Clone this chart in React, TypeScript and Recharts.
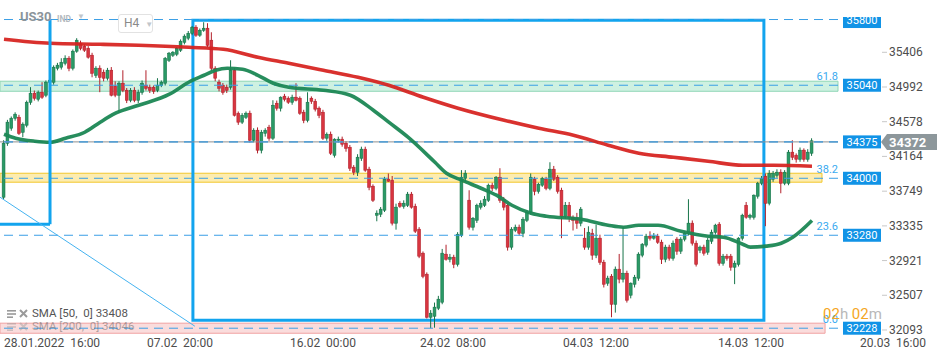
import React from 'react';
import { Bar, ComposedChart, Line, ReferenceArea, ReferenceLine, XAxis, YAxis } from 'recharts';

// H4 candles: [open, high, low, close]
const candles: number[][] = [
  [33677, 34357, 33653, 34321], [34321, 34600, 34290, 34572], [34500, 34640, 34470, 34619], [34619, 34690, 34590, 34667],
  [34631, 34660, 34420, 34440], [34452, 34570, 34393, 34548], [34536, 34830, 34510, 34810], [34810, 34990, 34780, 34918],
  [34918, 34950, 34830, 34858], [34846, 34950, 34820, 34929], [34929, 35049, 34850, 34870], [34894, 35070, 34870, 35049],
  [35049, 35100, 35000, 35073], [35049, 35250, 35020, 35228], [35216, 35280, 35190, 35252], [35228, 35335, 35200, 35287],
  [35275, 35370, 35250, 35335], [35335, 35360, 35180, 35216], [35216, 35440, 35190, 35419], [35419, 35574, 35400, 35550],
  [35514, 35545, 35430, 35454], [35478, 35500, 35410, 35431], [35454, 35480, 35330, 35347], [35371, 35400, 35108, 35156],
  [35132, 35240, 35100, 35216], [35216, 35250, 34930, 35108], [35168, 35200, 35060, 35097], [35097, 35220, 35070, 35192],
  [35192, 35230, 34880, 34894], [35001, 35060, 34870, 34894], [34894, 35060, 34680, 35037], [35037, 35192, 34930, 34953],
  [34953, 34980, 34800, 34834], [34834, 34980, 34810, 34953], [34953, 34990, 34810, 34834], [34834, 34960, 34800, 34929],
  [34929, 35070, 34900, 35037], [35013, 35192, 34950, 34977], [34989, 35020, 34920, 34953], [34989, 35010, 34910, 34941],
  [34953, 35097, 34930, 35013], [35013, 35070, 34990, 35049], [35037, 35350, 35010, 35335], [35311, 35410, 35290, 35395],
  [35371, 35420, 35350, 35407], [35383, 35470, 35360, 35454], [35431, 35560, 35410, 35538], [35526, 35620, 35500, 35598],
  [35574, 35660, 35550, 35633], [35633, 35720, 35610, 35705], [35705, 35730, 35590, 35610], [35610, 35690, 35590, 35669],
  [35669, 35765, 35650, 35693], [35693, 35753, 35470, 35490], [35550, 35645, 35190, 35216], [35216, 35240, 35060, 35097],
  [35049, 35080, 34940, 34977], [35013, 35040, 34900, 34929], [34989, 35020, 34920, 34953], [34989, 35311, 34960, 35192],
  [35192, 35220, 34640, 34655], [34679, 34700, 34540, 34572], [34572, 34680, 34550, 34655], [34631, 34700, 34610, 34679],
  [34679, 34710, 34330, 34357], [34357, 34500, 34330, 34476], [34476, 34510, 34200, 34238], [34238, 34480, 34200, 34452],
  [34440, 34500, 34400, 34476], [34512, 34540, 34350, 34381], [34381, 34834, 34360, 34774], [34798, 34830, 34710, 34739],
  [34739, 34880, 34700, 34870], [34882, 34910, 34820, 34846], [34858, 34880, 34790, 34810], [34810, 34900, 34780, 34870],
  [34870, 35037, 34820, 34834], [34858, 34880, 34660, 34679], [34691, 34720, 34560, 34595], [34595, 34929, 34570, 34810],
  [34858, 34880, 34790, 34822], [34822, 34850, 34700, 34727], [34739, 34760, 34620, 34655], [34691, 34720, 34360, 34381],
  [34381, 34450, 34350, 34428], [34428, 34460, 34180, 34202], [34178, 34380, 34150, 34369], [34357, 34400, 34330, 34369],
  [34369, 34400, 34280, 34309], [34321, 34345, 34220, 34261], [34273, 34300, 33990, 34023], [34035, 34060, 33940, 33975],
  [33975, 34190, 33930, 34154], [34142, 34280, 34110, 34250], [34250, 34280, 33980, 33999], [34011, 34040, 33760, 33796],
  [33808, 33830, 33620, 33641], [33462, 33520, 33390, 33486], [33474, 33560, 33440, 33534], [33522, 33920, 33500, 33892],
  [33892, 33960, 33860, 33868], [33880, 33930, 33340, 33367], [33367, 33600, 33290, 33558], [33605, 33630, 33550, 33569],
  [33569, 33640, 33540, 33605], [33581, 33740, 33560, 33713], [33713, 33740, 33540, 33558], [33569, 33600, 33250, 33271],
  [33295, 33320, 32950, 32973], [33009, 33030, 32710, 32734], [32758, 32780, 32230, 32245], [32245, 32330, 32114, 32293],
  [32257, 32420, 32120, 32365], [32353, 32500, 32330, 32460], [32424, 33060, 32400, 33009], [32997, 33110, 32920, 32937],
  [32937, 33000, 32900, 32961], [32961, 32990, 32830, 32877], [32877, 33260, 32850, 33235], [33223, 34000, 33200, 33915],
  [33903, 34000, 33860, 33963], [33641, 33760, 33290, 33319], [33319, 33440, 33280, 33426], [33402, 33600, 33370, 33581],
  [33558, 33640, 33530, 33605], [33581, 33690, 33560, 33653], [33641, 33840, 33620, 33820], [33820, 33850, 33750, 33784],
  [33784, 33930, 33760, 33915], [33915, 34023, 33610, 33641], [33653, 33680, 33520, 33558], [33581, 33600, 33040, 33081],
  [33081, 33320, 33050, 33295], [33283, 33350, 33260, 33319], [33319, 33350, 33220, 33247], [33247, 33440, 33200, 33414],
  [33402, 33520, 33380, 33498], [33498, 33960, 33470, 33915], [33892, 33920, 33700, 33748], [33748, 33850, 33720, 33832],
  [33820, 33920, 33800, 33903], [33892, 33920, 33760, 33784], [33784, 34094, 33760, 34011], [34011, 34050, 33870, 33892],
  [33915, 33940, 33720, 33748], [33760, 33790, 33188, 33450], [33450, 33620, 33420, 33581], [33581, 33620, 33380, 33438],
  [33438, 33460, 33280, 33402], [33426, 33490, 33300, 33367], [33367, 33560, 33330, 33534], [33188, 33310, 33050, 33081],
  [33081, 33330, 33050, 33259], [33247, 33300, 32930, 32985], [32985, 33350, 32950, 33188], [33188, 33230, 32870, 32901],
  [32901, 32930, 32600, 32639], [32651, 32740, 32620, 32711], [32734, 32760, 32245, 32400], [32400, 32850, 32300, 32818],
  [32818, 33000, 32650, 32699], [32699, 33319, 32660, 32770], [32770, 32800, 32420, 32448], [32508, 32660, 32470, 32651],
  [32639, 32750, 32600, 32722], [32711, 33020, 32680, 32997], [32985, 33130, 32960, 33116], [33105, 33240, 33080, 33212],
  [33212, 33270, 33160, 33188], [33188, 33250, 33170, 33212], [33212, 33240, 33120, 33140], [33140, 33170, 32880, 32937],
  [32937, 33110, 32900, 33081], [33081, 33110, 32920, 32949], [32949, 33160, 32920, 33128], [33176, 33200, 32990, 33033],
  [33033, 33200, 33000, 33176], [33176, 33270, 33150, 33247], [33247, 33653, 33220, 33367], [33367, 33400, 33100, 33128],
  [33128, 33160, 32850, 32877], [33045, 33100, 33010, 33081], [33081, 33110, 32980, 33009], [33021, 33190, 32990, 33164],
  [33152, 33290, 33120, 33259], [33259, 33360, 33230, 33343], [33355, 33380, 32860, 32889], [32889, 33000, 32860, 32973],
  [32973, 33000, 32920, 32949], [32973, 33000, 32800, 32842], [32842, 32920, 32640, 32889], [32877, 33200, 32850, 33188],
  [33188, 33480, 33160, 33462], [33581, 33620, 33420, 33438], [33438, 33480, 33410, 33462], [33438, 33710, 33410, 33701],
  [33689, 33860, 33660, 33844], [33844, 33930, 33820, 33903], [33927, 33960, 33331, 33605], [33605, 34000, 33580, 33963],
  [33892, 33990, 33860, 33963], [33939, 34010, 33910, 33975], [33975, 34010, 33724, 33844], [33844, 34000, 33820, 33975],
  [33844, 34240, 33820, 34214], [34214, 34357, 34120, 34154], [34178, 34200, 34090, 34130], [34130, 34270, 34100, 34238],
  [34238, 34260, 34100, 34130], [34130, 34250, 34100, 34214], [34202, 34380, 34170, 34350],
];

// moving averages, read at candle indices
const sma50Idx = [0, 3, 8, 12, 16, 21, 25, 29, 35, 43, 48, 52, 55, 58, 62, 66, 70, 74, 83, 90, 96, 100, 105, 112, 115, 119, 124, 128, 132, 137, 141, 150, 157, 161, 165, 170, 176, 183, 187, 192, 194, 198, 202, 205, 210];
const sma50Val = [34428, 34381, 34345, 34333, 34381, 34452, 34572, 34679, 34774, 34906, 35049, 35132, 35192, 35216, 35204, 35132, 35037, 34989, 34953, 34894, 34715, 34572, 34393, 34094, 33963, 33880, 33784, 33701, 33581, 33486, 33450, 33414, 33343, 33319, 33343, 33343, 33271, 33212, 33200, 33116, 33081, 33093, 33128, 33200, 33400];
const sma200Idx = [0, 12, 25, 35, 48, 57, 66, 74, 83, 92, 100, 109, 118, 130, 139, 148, 157, 165, 174, 183, 192, 200, 210];
const sma200Val = [35562, 35514, 35502, 35490, 35466, 35442, 35347, 35275, 35192, 35108, 35013, 34870, 34739, 34595, 34500, 34417, 34297, 34202, 34154, 34106, 34059, 34059, 34046];

const yTicks = [35406, 34992, 34578, 34164, 33749, 33335, 32921, 32507, 32093];
const xTickIdx = [0, 37.17, 74.33, 108.12, 145.29, 185.57, 222.48];
const xTickLabels = ['28.01.2022  16:00', '07.02  20:00', '16.02  00:00', '24.02  08:00', '04.03  12:00', '14.03  12:00', '20.03  16:00'];

// drawn levels: where the line sits, its tag, its fib ratio
const levelVals = [35797, 35013, 34337, 33903, 33223, 32114];
const levelTags = ['35800', '35040', '34375', '34000', '33280', '32228'];
const levelFibs = ['', '61.8', '', '38.2', '23.6', '0.0'];
const lastPrice = '34372';

const data = candles.map((k, i) => ({ i, o: k[0], h: k[1], l: k[2], c: k[3], range: [k[2], k[1]] }));
const sma50 = sma50Idx.map((i, n) => ({ i, v: sma50Val[n] }));
const sma200 = sma200Idx.map((i, n) => ({ i, v: sma200Val[n] }));

const BLUE = '#12a4ee';
const TAG = '#1193e6';

function Candle(p: any) {
  const { x, y, width, height, payload } = p;
  if (!payload) return null;
  const { o, h, l, c } = payload;
  const top = Math.min(y, y + height);
  const bot = Math.max(y, y + height);
  const span = h - l || 1;
  const py = (v: number) => top + ((h - v) / span) * (bot - top);
  const cx = x + width / 2;
  const up = c >= o;
  const dark = up ? '#17744a' : '#b3212b';
  const fill = up ? '#2a9a66' : '#d93540';
  const b0 = py(Math.max(o, c));
  const b1 = py(Math.min(o, c));
  return (
    <g>
      <line x1={cx} x2={cx} y1={top} y2={bot} stroke={dark} strokeWidth={1} />
      <rect x={cx - 1.4} y={b0} width={2.8} height={Math.max(1, b1 - b0)} fill={fill} stroke={dark} strokeWidth={0.6} />
    </g>
  );
}

function LevelTag({ viewBox, text, fib }: any) {
  if (!viewBox) return null;
  const right = viewBox.x + viewBox.width;
  const y = viewBox.y;
  // the top tag is cut off by the toolbar strip
  const top = Math.max(y - 6.5, 17);
  return (
    <g>
      <rect x={right + 5} y={top} width={38} height={y + 6.5 - top + (top > y - 6.5 ? 2 : 0)} fill={TAG} />
      <text x={right + 24} y={y + 4} fill="#fff" fontSize={11} textAnchor="middle" fontFamily="Roboto">{text}</text>
      {fib ? (
        <text x={right} y={y - 5} fill="#3aaaf0" fontSize={11} textAnchor="end" fontFamily="Roboto">{fib}</text>
      ) : null}
    </g>
  );
}

function PriceTag({ viewBox }: any) {
  if (!viewBox) return null;
  const x = viewBox.x + viewBox.width + 43;
  const y = viewBox.y;
  return (
    <g>
      <polygon points={`${x},${y} ${x + 6},${y - 8} ${x + 56},${y - 8} ${x + 56},${y + 8} ${x + 6},${y + 8}`} fill="#8d979b" />
      <text x={x + 8} y={y + 5} fill="#fff" fontSize={13} fontWeight="bold" fontFamily="Roboto">{lastPrice}</text>
    </g>
  );
}

function YTick({ x, y, payload }: any) {
  return (
    <g>
      <line x1={x + 36} x2={x + 41} y1={y} y2={y} stroke="#c8c8c8" />
      <text x={x + 43} y={y + 4} fill="#4d4d4d" fontSize={12} fontFamily="Roboto">{payload.value}</text>
    </g>
  );
}

function XTick({ x, y, payload }: any) {
  const k = xTickIdx.indexOf(payload.value);
  return (
    <text x={x} y={y + 4} fill="#4d4d4d" fontSize={12} fontFamily="Roboto" style={{ whiteSpace: 'pre' }}>
      {xTickLabels[k]}
    </text>
  );
}

function LegendIcon() {
  return (
    <svg width={22} height={10} style={{ verticalAlign: 'middle' }}>
      <rect x={0} y={1} width={9} height={1.6} fill="#9a9a9a" />
      <rect x={0} y={4.2} width={9} height={1.6} fill="#9a9a9a" />
      <rect x={0} y={7.4} width={6} height={1.6} fill="#9a9a9a" />
      <path d="M13 1 L20 8 M20 1 L13 8" stroke="#9a9a9a" strokeWidth={2} />
    </svg>
  );
}

const noDot = () => <g />;

export default function App() {
  return (
    <div style={{ position: 'absolute', left: 0, top: 0, width: 950, height: 360, background: '#fff', fontFamily: 'Roboto' }}>
      <ComposedChart width={950} height={360} data={data} margin={{ top: 0, right: 0, left: 0, bottom: 0 }}>
        <XAxis
          dataKey="i"
          type="number"
          domain={[-1.04, 216.76]}
          allowDataOverflow
          ticks={xTickIdx}
          interval={0}
          tick={<XTick />}
          axisLine={false}
          tickLine={false}
          height={25}
        />
        <YAxis
          orientation="right"
          type="number"
          domain={[32033, 36030]}
          allowDataOverflow
          ticks={yTicks}
          interval={0}
          width={112}
          axisLine={false}
          tickLine={false}
          tick={<YTick />}
        />

        {levelVals.map((v, n) => (
          <ReferenceLine key={'l' + n} y={v} stroke="#3a9fe6" strokeDasharray="9 6" ifOverflow="visible" />
        ))}
        <ReferenceLine y={levelVals[2]} stroke="#8e8e8e" ifOverflow="visible" />
        <ReferenceLine y={levelVals[2]} stroke="#3a9fe6" strokeDasharray="9 6" ifOverflow="visible" />

        <Bar dataKey="range" barSize={3} shape={<Candle />} isAnimationActive={false} />
        <Line data={sma200} dataKey="v" type="monotone" stroke="#d6201c" strokeOpacity={0.92} strokeWidth={3.6} dot={noDot} activeDot={false} isAnimationActive={false} />
        <Line data={sma50} dataKey="v" type="monotone" stroke="#1b8754" strokeOpacity={0.95} strokeWidth={3.6} dot={noDot} activeDot={false} isAnimationActive={false} />

        <ReferenceArea y1={34941} y2={35061} fill="#9de3c4" fillOpacity={0.5} stroke="#8fd6b6" ifOverflow="visible" />
        <ReferenceArea x1={-1.04} x2={212.6} y1={33856} y2={33963} fill="#fbe07a" fillOpacity={0.6} stroke="#f2c72e" ifOverflow="visible" />
        <ReferenceArea x1={-1.04} x2={213.4} y1={32054} y2={32174} fill="#f6b9b9" fillOpacity={0.5} stroke="#f0a2a2" ifOverflow="visible" />

        <ReferenceArea x1={49.1} x2={197.5} y1={32209} y2={35788} fill="none" stroke={BLUE} strokeWidth={3} ifOverflow="visible" />
        <ReferenceLine segment={[{ x: 11.96, y: 35800 }, { x: 11.96, y: 33355 }]} stroke={BLUE} strokeWidth={3} ifOverflow="visible" />
        <ReferenceLine segment={[{ x: -1.04, y: 33355 }, { x: 11.96, y: 33355 }]} stroke={BLUE} strokeWidth={3} ifOverflow="visible" />
        <ReferenceLine segment={[{ x: -1.04, y: 33677 }, { x: 49.6, y: 32138 }]} stroke="#45b3f0" strokeWidth={1} ifOverflow="visible" />

        {levelVals.map((v, n) => (
          <ReferenceLine
            key={'t' + n}
            y={v}
            stroke="none"
            ifOverflow="visible"
            label={(p: any) => <LevelTag viewBox={p.viewBox} text={levelTags[n]} fib={levelFibs[n]} />}
          />
        ))}
        <ReferenceLine y={levelVals[2]} stroke="none" ifOverflow="visible" label={(p: any) => <PriceTag viewBox={p.viewBox} />} />
      </ComposedChart>

      <div style={{ position: 'absolute', left: 20, top: 9, fontSize: 13, fontWeight: 700, color: '#8b949a' }}>US30</div>
      <div style={{ position: 'absolute', left: 57, top: 14, fontSize: 8.5, fontWeight: 700, color: '#b5babe' }}>IND</div>
      <div style={{ position: 'absolute', left: 77, top: 12, fontSize: 8, color: '#c2c6ca' }}>▼</div>
      <div
        style={{
          position: 'absolute', left: 118, top: 14, width: 33, height: 17, border: '1px solid #e2e2e2',
          borderRadius: 3, background: '#fff', fontSize: 12, color: '#8a8a8a', lineHeight: '17px',
        }}
      >
        <span style={{ marginLeft: 5 }}>H4</span>
        <span style={{ marginLeft: 6, fontSize: 8, color: '#c2c6ca' }}>▼</span>
      </div>

      <div style={{ position: 'absolute', left: 7, top: 306, fontSize: 11.5, color: '#555', whiteSpace: 'pre' }}>
        <LegendIcon />
        <span style={{ marginLeft: 3 }}>SMA [50,  0] 33408</span>
      </div>
      <div style={{ position: 'absolute', left: 7, top: 319, fontSize: 11.5, color: '#555', opacity: 0.45, whiteSpace: 'pre' }}>
        <LegendIcon />
        <span style={{ marginLeft: 3 }}>SMA [200,  0] 34046</span>
      </div>

      <div style={{ position: 'absolute', left: 823, top: 305, fontSize: 15, color: '#f5a623' }}>
        02<span style={{ color: '#b8b8b8' }}>h </span>02<span style={{ color: '#b8b8b8' }}>m</span>
      </div>
    </div>
  );
}
